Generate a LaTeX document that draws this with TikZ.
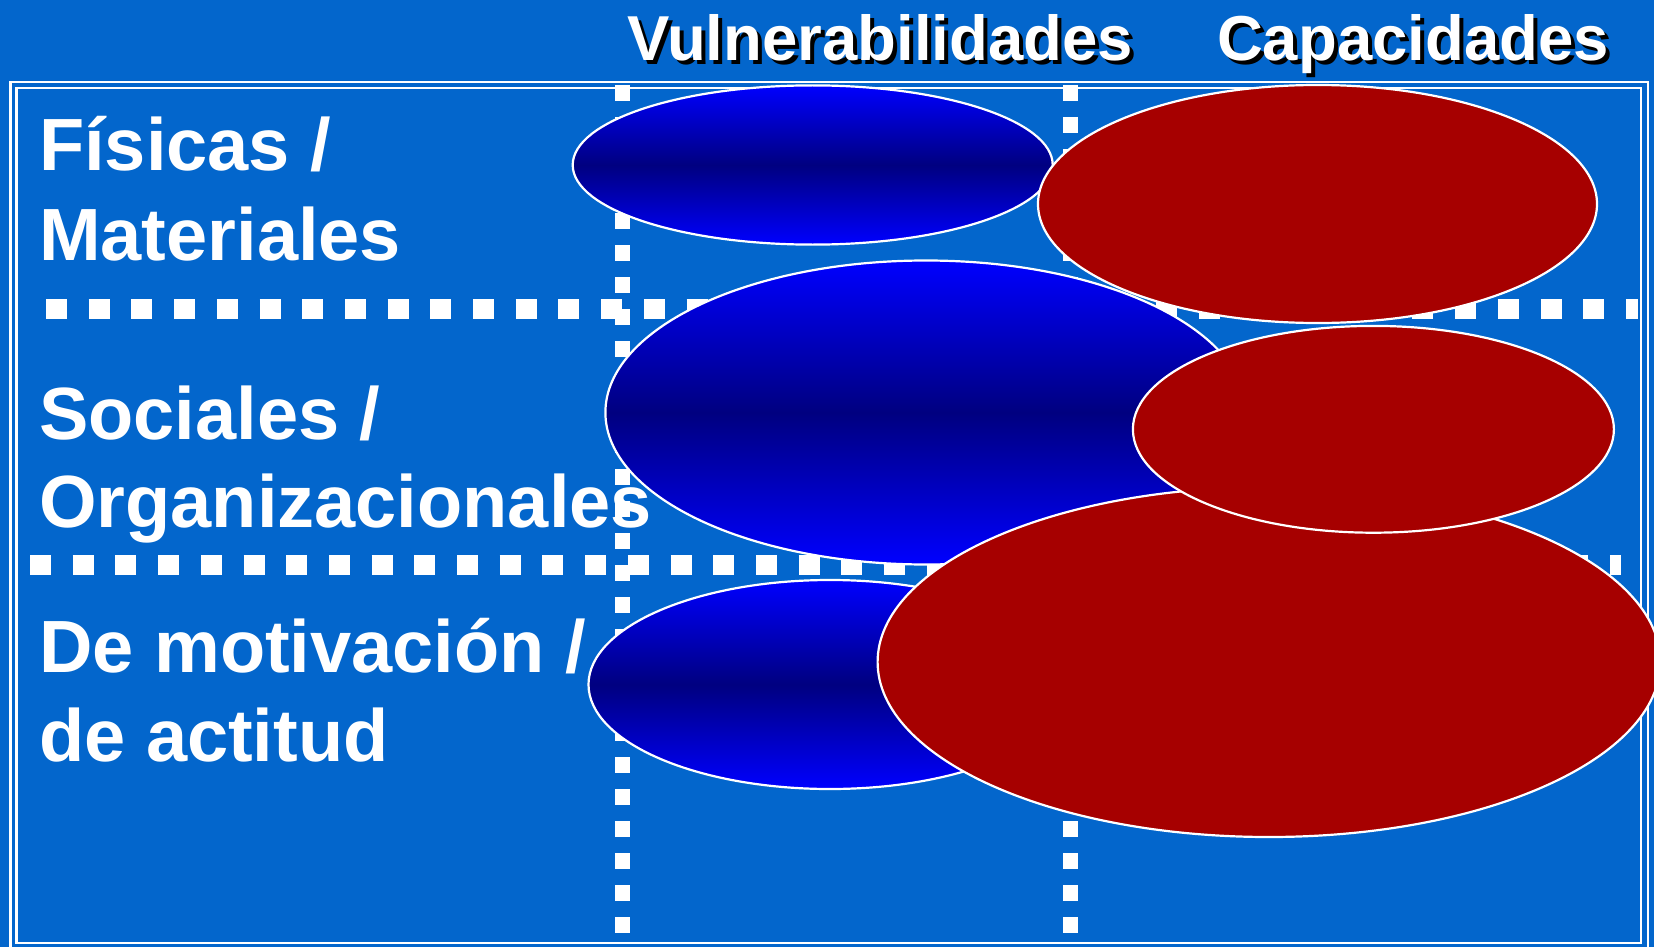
\documentclass[tikz,border=0pt]{standalone}
\usepackage{fontspec}
\setmainfont{Liberation Sans}
\definecolor{bgblue}{RGB}{3,102,204}
\definecolor{vblue}{RGB}{0,0,255}
\definecolor{vnavy}{RGB}{0,0,128}
\definecolor{cred}{RGB}{166,0,0}
\newcommand{\shadtext}[1]{\makebox[0pt][l]{\hspace*{4pt}\raisebox{-4pt}{\color{black}#1}}#1}
\tikzset{
  vline/.style={white, line width=15pt, line cap=butt, dash pattern=on 16pt off 16pt},
  hline/.style={white, line width=20pt, line cap=butt, dash pattern=on 21pt off 21.7pt},
  blueell/.style={top color=vblue, bottom color=vblue, middle color=vnavy, draw=white, line width=2.2pt},
  redell/.style={fill=cred, draw=white, line width=2.2pt},
  rowlabel/.style={anchor=base west, text=white, inner sep=0pt, font=\fontsize{74}{89}\selectfont\bfseries},
  head/.style={anchor=base, inner sep=0pt, text=white, font=\fontsize{63.5}{76}\selectfont\bfseries},
  frame/.style={draw=white, line width=2.2pt},
}
\begin{document}
\begin{tikzpicture}[x=1pt,y=-1pt]
\useasboundingbox (0,0) rectangle (1654,947);
\clip (0,0) rectangle (1654,947);
\fill[bgblue] (0,0) rectangle (1654,947);
% double frame
\draw[frame] (10.5,82) rectangle (1648,950);
\draw[frame] (16.5,88) rectangle (1641,943);
% grid of dashed lines
\coordinate (h1a) at (46,308.5);
\coordinate (h1b) at (1638,308.5);
\coordinate (h2a) at (30,565);
\coordinate (h2b) at (1621,565);
\coordinate (v1a) at (622,85);
\coordinate (v1b) at (622,933);
\coordinate (v2a) at (1070,85);
\coordinate (v2b) at (1070,933);
\draw[hline] (h1a) -- (h1b);
\draw[hline] (h2a) -- (h2b);
\draw[vline] (v1a) -- (v1b);
\draw[vline] (v2a) -- (v2b);
% ellipses
\path[blueell] (812.7,165) ellipse [x radius=240pt, y radius=79.6pt];
\path[redell] (1317.5,204) ellipse [x radius=279.5pt, y radius=119pt];
\path[blueell] (926,412.5) ellipse [x radius=320.6pt, y radius=152pt];
\path[blueell] (830,684.5) ellipse [x radius=241.5pt, y radius=104.5pt];
\path[redell] (1269,662) ellipse [x radius=391.4pt, y radius=175pt];
\path[redell] (1373.4,429.3) ellipse [x radius=240.5pt, y radius=103.4pt];
% headers
\node[head] (vuln) at (880,61) {\shadtext{Vulnerabilidades}};
\node[head] (cap) at (1413,61) {\shadtext{Capacidades}};
% row labels
\node[rowlabel] (f1) at (39,171) {Físicas /};
\node[rowlabel] (f2) at (39,260.5) {Materiales};
\node[rowlabel] (s1) at (39,439) {Sociales /};
\node[rowlabel] (s2) at (39,527) {Organizacionales};
\node[rowlabel] (m1) at (39,672) {De motivación /};
\node[rowlabel] (m2) at (39,761) {de actitud};
\end{tikzpicture}
\end{document}
